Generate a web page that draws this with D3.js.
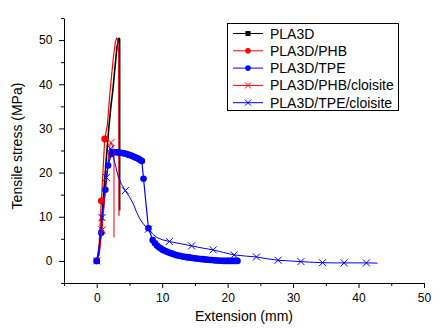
<!DOCTYPE html>
<html><head><meta charset="utf-8">
<script src="https://cdn.jsdelivr.net/npm/d3@7"></script>
<style>html,body{margin:0;padding:0;background:#fff;}svg{display:block;font-family:"Liberation Sans",Arial,sans-serif;}</style>
</head><body><svg id="c" width="443" height="329"></svg>
<script>
// ---- data (Extension mm, Tensile stress MPa) ----
const seriesNames = ["PLA3D","PLA3D/PHB","PLA3D/TPE","PLA3D/PHB/cloisite","PLA3D/TPE/cloisite"];
const xTicks = [0,10,20,30,40,50];
const yTicks = [0,10,20,30,40,50];
const pla3d = [[0,0],[0.3,1.5],[0.6,6],[1.0,14],[1.4,22],[1.62,26],[1.88,30.7],[2.2,35.5],[2.44,38.3],[2.8,44],[3.1,48.5],[3.35,50.3],[3.45,50.4],[3.5,50.2],[3.5,11.4]];
const pla3dPhb = [[0,0],[0.3,1.5],[0.7,13.6],[0.95,20],[1.22,27.6],[1.62,30.7],[2.03,38.3],[2.5,45.5],[2.85,49.6],[3.05,50.5],[3.2,50],[3.35,47],[3.4,10.2]];
const pla3dPhbMarks = [0,2,4];
const pla3dTpe = [[0,0],[0.7,6.4],[1.32,16.1],[1.73,21.6],[2.24,24.2],[2.5,24.6],[2.8,24.6],[3.1,24.6],[3.4,24.5],[3.7,24.5],[4.0,24.4],[4.3,24.3],[4.6,24.2],[4.9,24.0],[5.2,23.9],[5.5,23.7],[5.8,23.5],[6.1,23.3],[6.4,23.1],[6.7,22.8],[6.9,22.6],[7.15,18.6],[7.9,7.4],[8.55,4.7],[8.9,4.0],[9.2,3.5],[9.5,3.1],[9.8,2.8],[10.1,2.5],[10.4,2.3],[10.7,2.1],[11.0,1.9],[11.3,1.75],[11.6,1.6],[11.9,1.45],[12.2,1.3],[12.5,1.2],[12.8,1.1],[13.1,1.0],[13.4,0.95],[13.7,0.85],[14.0,0.8],[14.3,0.75],[14.6,0.65],[14.9,0.6],[15.2,0.55],[15.5,0.5],[15.8,0.45],[16.1,0.4],[16.4,0.35],[16.7,0.3],[17.0,0.25],[17.3,0.2],[17.6,0.2],[17.9,0.15],[18.2,0.1],[18.5,0.1],[18.8,0.05],[19.1,0.05],[19.4,0],[19.7,0],[20.0,0],[20.3,0],[20.6,0],[20.9,0],[21.2,0],[21.5,0]];
const pla3dPhbCl = [[0,0],[0.4,1.5],[0.81,7],[1.2,14],[1.55,20],[1.85,24.5],[2.05,26.3],[2.18,26.8],[2.4,26],[2.55,25.2],[2.64,24.5],[2.64,5.3]];
const pla3dPhbClMarks = [2,7];
const pla3dTpeCl = [[0,0],[0.3,1.5],[0.81,9.8],[1.1,14.5],[1.47,18.9],[1.8,22.5],[2.14,25.4],[2.35,24.8],[2.8,22],[3.3,19],[3.8,17.3],[4.37,15.9],[5.0,14.5],[5.6,12.9],[6.1,11],[6.6,9.5],[7.2,8.2],[7.9,7.2],[8.6,6],[9.2,5.3],[10.0,4.8],[11.1,4.4],[12.8,3.9],[14.5,3.4],[16.2,2.9],[17.8,2.5],[19.4,1.9],[21,1.36],[22.7,1.1],[24.4,0.9],[26,0.5],[27.7,0.15],[29.5,0],[31.2,-0.15],[32.9,-0.3],[34.5,-0.4],[36.2,-0.45],[37.8,-0.45],[39.5,-0.45],[41.2,-0.45],[42.9,-0.5]];
const pla3dTpeClMarks = [0,2,4,6,11,17,21,23,25,27,29,31,33,35,37,39];

// ---- drawing ----
const svg = d3.select("#c");
const x = d3.scaleLinear().domain([-5,50]).range([64,424]);
const y = d3.scaleLinear().domain([-5,55]).range([283,18]);
const line = d3.line().x(d=>x(d[0])).y(d=>y(d[1]));

// axes
const xAxis = d3.axisBottom(x).tickValues(xTicks).tickSize(5).tickSizeOuter(0).tickFormat(d3.format("d"));
const gx = svg.append("g").attr("transform","translate(0,283)").call(xAxis);
gx.select(".domain").attr("stroke","#000");
gx.selectAll("text").attr("font-size",12).attr("fill","#000").attr("dy","0.95em");
svg.append("g").attr("transform","translate(0,283)")
  .call(d3.axisBottom(x).tickValues(d3.range(-5,51,10)).tickSize(3).tickFormat(""))
  .select(".domain").remove();

const yAxis = d3.axisLeft(y).tickValues(yTicks).tickSize(5).tickSizeOuter(0).tickFormat(d3.format("d"));
const gy = svg.append("g").attr("transform","translate(64,0)").call(yAxis);
gy.select(".domain").attr("stroke","#000");
gy.selectAll("text").attr("font-size",12).attr("fill","#000").attr("dx","-0.3em");
svg.append("g").attr("transform","translate(64,0)")
  .call(d3.axisLeft(y).tickValues(d3.range(-5,56,10)).tickSize(3).tickFormat(""))
  .select(".domain").remove();

svg.append("text").attr("x",244).attr("y",321).attr("text-anchor","middle").attr("font-size",14).text("Extension (mm)");
svg.append("text").attr("transform","translate(22,146) rotate(-90)").attr("text-anchor","middle").attr("font-size",14).text("Tensile stress (MPa)");

function path(data,color,w){
  svg.append("path").datum(data).attr("d",line).attr("fill","none").attr("stroke",color).attr("stroke-width",w).attr("stroke-linejoin","round");
}
function circles(data,color,r){
  svg.append("g").selectAll("circle").data(data).join("circle")
    .attr("cx",d=>x(d[0])).attr("cy",d=>y(d[1])).attr("r",r).attr("fill",color);
}
function crosses(data,color,s){
  const g = svg.append("g");
  data.forEach(d=>{
    const cx=x(d[0]), cy=y(d[1]);
    g.append("path").attr("d",`M${cx-s},${cy-s}L${cx+s},${cy+s}M${cx-s},${cy+s}L${cx+s},${cy-s}`).attr("stroke",color).attr("stroke-width",1).attr("fill","none");
  });
}

path(pla3d,"#000",1.6);
path(pla3dPhb,"#f00",1.2);
circles(pla3dPhbMarks.map(i=>pla3dPhb[i]),"#f00",3.4);
path(pla3dTpe,"#00f",1.2);
circles(pla3dTpe,"#00f",3.3);
path(pla3dPhbCl,"#f00",1);
crosses(pla3dPhbClMarks.map(i=>pla3dPhbCl[i]),"#f00",3.5);
path(pla3dTpeCl,"#00f",1);
crosses(pla3dTpeClMarks.map(i=>pla3dTpeCl[i]),"#00f",3.5);

// legend
const lg = svg.append("g");
lg.append("rect").attr("x",227.5).attr("y",23.5).attr("width",171).attr("height",87).attr("fill","#fff").attr("stroke","#000").attr("stroke-width",1);
const colors = ["#000","#f00","#00f","#f00","#00f"];
const kinds = ["square","circle","circle","cross","cross"];
seriesNames.forEach((n,i)=>{
  const yy = 33.5 + i*17.3;
  lg.append("line").attr("x1",233).attr("x2",263).attr("y1",yy).attr("y2",yy).attr("stroke",colors[i]).attr("stroke-width",1);
  if(kinds[i]==="square") lg.append("rect").attr("x",245.5).attr("y",yy-2.5).attr("width",5).attr("height",5).attr("fill",colors[i]);
  else if(kinds[i]==="circle") lg.append("circle").attr("cx",248).attr("cy",yy).attr("r",2.8).attr("fill",colors[i]);
  else lg.append("path").attr("d",`M245,${yy-3}L251,${yy+3}M245,${yy+3}L251,${yy-3}`).attr("stroke",colors[i]).attr("stroke-width",1);
  lg.append("text").attr("x",270).attr("y",yy+5).attr("font-size",14).attr("fill","#000").text(n);
});
</script></body></html>
